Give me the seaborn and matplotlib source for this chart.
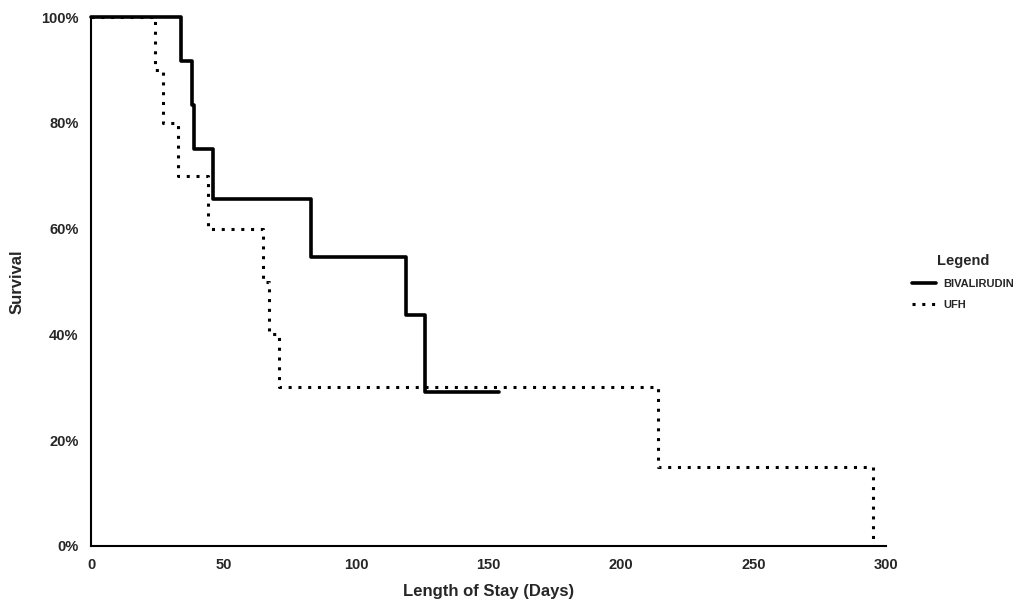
import matplotlib
matplotlib.use('Agg')

import pandas as pd
import matplotlib.pyplot as plt
import seaborn as sns
from matplotlib.lines import Line2D
from matplotlib.ticker import PercentFormatter

# Kaplan-Meier style survival steps
biv_days = [0, 34, 38, 39, 46, 83, 119, 126, 154]
biv_surv = [100, 91.7, 83.3, 75.0, 65.6, 54.7, 43.75, 29.2, 29.2]

ufh_days = [0, 24, 27, 33, 44, 65, 67, 71, 214, 295]
ufh_surv = [100, 90, 80, 70, 60, 50, 40, 30, 15, 0]

groups = ["BIVALIRUDIN", "UFH"]
x_ticks = [0, 50, 100, 150, 200, 250, 300]
y_ticks = [0, 20, 40, 60, 80, 100]

df = pd.concat([
    pd.DataFrame({'days': biv_days, 'survival': biv_surv, 'group': groups[0]}),
    pd.DataFrame({'days': ufh_days, 'survival': ufh_surv, 'group': groups[1]}),
])

sns.set_style('white')
plt.rcParams['font.family'] = ['Liberation Sans Narrow', 'Liberation Sans', 'DejaVu Sans']
plt.rcParams['font.weight'] = 'bold'

fig = plt.figure(figsize=(10.18, 6.08), dpi=100)
ax = fig.add_axes([0.0894, 0.102, 0.781, 0.870])

dotted = (0, (1, 2.2))
sns.lineplot(data=df[df['group'] == groups[0]], x='days', y='survival', ax=ax,
             color='black', lw=2.6, drawstyle='steps-post', estimator=None,
             clip_on=False, legend=False)
sns.lineplot(data=df[df['group'] == groups[1]], x='days', y='survival', ax=ax,
             color='black', lw=2.2, linestyle=dotted, drawstyle='steps-post',
             estimator=None, clip_on=False, legend=False)

ax.set_xlim(0, 300)
ax.set_ylim(0, 100)
ax.set_xticks(x_ticks)
ax.set_yticks(y_ticks)
ax.yaxis.set_major_formatter(PercentFormatter(decimals=0))
ax.tick_params(axis='both', direction='out', length=5, width=1, color='black',
               labelsize=10.5, pad=4)
for lab in ax.get_xticklabels() + ax.get_yticklabels():
    lab.set_fontweight('bold')

for side in ['top', 'right']:
    ax.spines[side].set_visible(False)
for side in ['left', 'bottom']:
    ax.spines[side].set_color('black')
    ax.spines[side].set_linewidth(1.5)

ax.set_xlabel('Length of Stay (Days)', fontsize=12, fontweight='bold', labelpad=8)
ax.set_ylabel('Survival', fontsize=12, fontweight='bold', labelpad=12)

handles = [Line2D([], [], color='black', lw=2.6),
           Line2D([], [], color='black', lw=2.2, linestyle=dotted)]
leg = fig.legend(handles, groups, title='Legend', loc='upper left',
                 bbox_to_anchor=(0.886, 0.598), frameon=False,
                 prop={'size': 8, 'weight': 'bold'}, handlelength=2.2,
                 handletextpad=0.6, labelspacing=0.95)
leg.get_title().set_fontweight('bold')
leg.get_title().set_fontsize(10.5)
leg._legend_box.align = 'center'

fig.savefig('out.png', dpi=100)
